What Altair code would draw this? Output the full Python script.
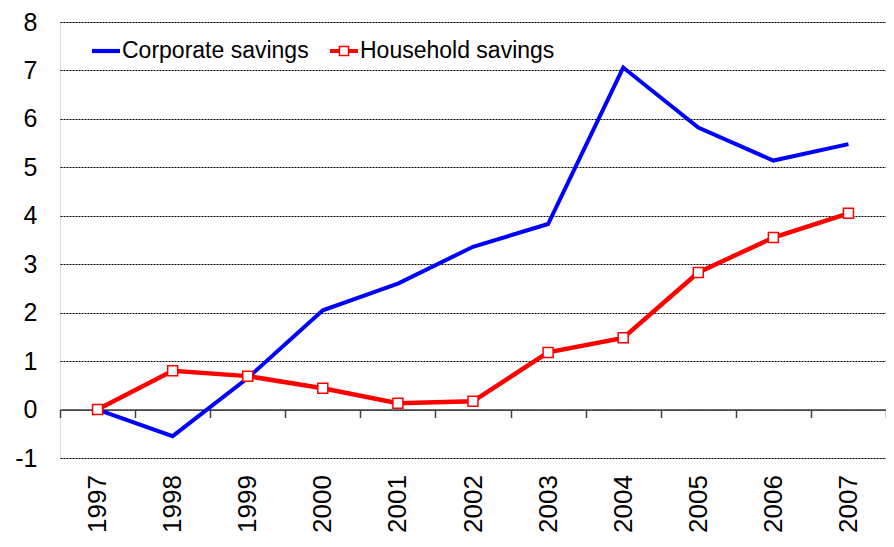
import altair as alt
import pandas as pd

years = ["1997", "1998", "1999", "2000", "2001", "2002", "2003", "2004", "2005", "2006", "2007"]
corporate = [0.0, -0.55, 0.65, 2.05, 2.6, 3.36, 3.83, 7.06, 5.82, 5.14, 5.48]
household = [0.0, 0.8, 0.69, 0.44, 0.13, 0.17, 1.18, 1.48, 2.83, 3.55, 4.05]
series_names = ["Corporate savings", "Household savings"]
y_ticks = [-1, 0, 1, 2, 3, 4, 5, 6, 7, 8]

rows = []
for y, c in zip(years, corporate):
    rows.append({"year": y, "value": c, "series": series_names[0]})
for y, h in zip(years, household):
    rows.append({"year": y, "value": h, "series": series_names[1]})
df = pd.DataFrame(rows)

W, H = 826, 436
FONT = "Liberation Sans"

corp_path = "M-1,-0.15H1V0.15H-1Z"
house_path = ("M-1,-0.15H-0.36V0.15H-1Z M0.36,-0.15H1V0.15H0.36Z "
              "M-0.38,-0.38H0.38V0.38H-0.38Z M-0.27,-0.27V0.27H0.27V-0.27Z")

x_enc = alt.X(
    "year:O",
    sort=years,
    bandPosition=0.5,
    scale=alt.Scale(type="band", paddingInner=0, paddingOuter=0),
    axis=alt.Axis(
        title=None,
        orient="bottom",
        offset=-H / 9,
        tickBand="extent",
        grid=False,
        domainColor="#404040",
        domainWidth=1.5,
        tickColor="#404040",
        tickWidth=1.5,
        tickSize=8,
        labelAngle=-90,
        labelAlign="right",
        labelBaseline="middle",
        labelPadding=57,
        labelFontSize=26,
        labelFont=FONT,
        labelColor="#000000",
    ),
)

y_enc = alt.Y(
    "value:Q",
    scale=alt.Scale(domain=[-1, 8], nice=False, zero=False),
    axis=alt.Axis(
        title=None,
        values=y_ticks,
        labelExpr="'' + datum.value",
        domain=False,
        ticks=False,
        grid=True,
        gridColor="#000000",
        gridDash=[2, 1],
        gridWidth=1,
        labelPadding=23,
        labelFontSize=25,
        labelFont=FONT,
        labelColor="#000000",
    ),
)

legend = alt.Legend(
    title=None,
    orient="none",
    direction="horizontal",
    legendX=32,
    legendY=15,
    padding=0,
    columnPadding=21,
    labelOffset=2,
    labelLimit=0,
    labelFontSize=23,
    labelFont=FONT,
    labelColor="#000000",
    symbolSize=784,
    symbolStrokeWidth=0,
    symbolOpacity=1,
)

color_enc = alt.Color(
    "series:N",
    scale=alt.Scale(domain=series_names, range=["#0000FF", "#FF0000"]),
    legend=legend,
)
shape_enc = alt.Shape(
    "series:N",
    scale=alt.Scale(domain=series_names, range=[corp_path, house_path]),
    legend=legend,
)

base = alt.Chart(df)

legend_layer = base.transform_filter(
    alt.datum.year == years[0]
).mark_point(filled=True, opacity=0, size=784).encode(
    x=x_enc, y=y_enc, color=color_enc, shape=shape_enc
)

corp_line = base.transform_filter(
    alt.datum.series == series_names[0]
).mark_line(strokeWidth=4, color="#0000FF").encode(x=x_enc, y=y_enc)

house_line = base.transform_filter(
    alt.datum.series == series_names[1]
).mark_line(strokeWidth=4.5, color="#FF0000").encode(x=x_enc, y=y_enc)

house_pts = base.transform_filter(
    alt.datum.series == series_names[1]
).mark_point(shape="square", filled=True, fill="#FFFFFF", stroke="#FF0000",
             strokeWidth=1.5, size=100, opacity=1).encode(x=x_enc, y=y_enc)

chart = alt.layer(legend_layer, corp_line, house_line, house_pts).properties(
    width=W,
    height=H,
    autosize=alt.AutoSizeParams(type="none"),
    padding={"left": 52, "top": 14, "right": 0, "bottom": 81},
).configure_view(stroke=None).configure(background="#FFFFFF")

chart.save("out.html", embed_options={"renderer": "svg", "actions": False})
